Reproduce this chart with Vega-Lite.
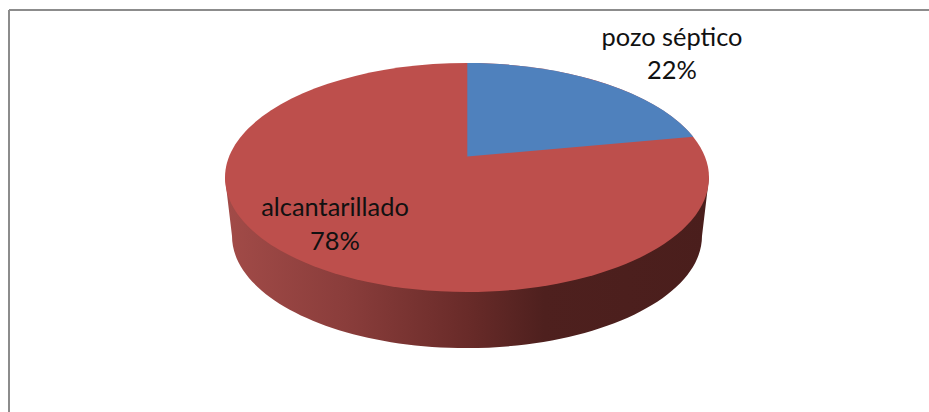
{
  "$schema": "https://vega.github.io/schema/vega-lite/v6.json",
  "width": 920,
  "height": 402,
  "padding": {"left": 9, "top": 10, "right": 0, "bottom": 0},
  "autosize": "none",
  "background": "white",
  "view": {"stroke": null},
  "config": {"view": {"stroke": null}},
  "data": {"values": [
    {"categoria": "alcantarillado", "valor": 78, "etiqueta": "alcantarillado\n78%"},
    {"categoria": "pozo séptico", "valor": 22, "etiqueta": "pozo séptico\n22%"}
  ]},
  "layer": [
    {
      "transform": [{"filter": "datum.categoria === 'alcantarillado'"}],
      "mark": {
        "type": "point", "filled": true, "size": 4, "opacity": 1, "strokeWidth": 0,
        "shape": "M-244,-33.5 L-237,25 A235,112 0 0 0 233,25 L240,-33.5 Z",
        "fill": {"gradient": "linear", "x1": 0, "x2": 1, "y1": 0, "y2": 0, "stops": [
          {"offset": 0, "color": "#a24b48"},
          {"offset": 0.25, "color": "#8a3d3b"},
          {"offset": 0.5, "color": "#692b29"},
          {"offset": 0.66, "color": "#4e201e"},
          {"offset": 1, "color": "#4a1e1c"}
        ]}
      },
      "encoding": {}
    },
    {
      "mark": {"type": "point", "filled": true, "size": 4, "opacity": 1, "strokeWidth": 0},
      "encoding": {
        "shape": {"field": "categoria", "type": "nominal", "legend": null, "scale": {
          "domain": ["alcantarillado", "pozo séptico"],
          "range": [
            "M-244,-33.5 A242,114.5 0 1 1 240,-33.5 A242,114.5 0 1 1 -244,-33.5 Z",
            "M-1.7,-54.5 L-1.7,-148 A242,114.5 0 0 1 224.3,-74.3 Z"
          ]
        }},
        "color": {"field": "categoria", "type": "nominal", "legend": null, "scale": {
          "domain": ["alcantarillado", "pozo séptico"],
          "range": ["#bd4f4c", "#4f81bd"]
        }}
      }
    },
    {
      "transform": [{"filter": "datum.categoria === 'alcantarillado'"}],
      "mark": {"type": "text", "font": "Lato", "fontSize": 25.4, "lineHeight": 33.5, "lineBreak": "\n", "color": "#111111", "dx": -134, "dy": -3, "align": "center", "baseline": "middle"},
      "encoding": {"text": {"field": "etiqueta"}}
    },
    {
      "transform": [{"filter": "datum.categoria === 'pozo séptico'"}],
      "mark": {"type": "text", "font": "Lato", "fontSize": 25.4, "lineHeight": 33.5, "lineBreak": "\n", "color": "#111111", "dx": 203, "dy": -173.5, "align": "center", "baseline": "middle"},
      "encoding": {"text": {"field": "etiqueta"}}
    },
    {
      "mark": {"type": "rule", "color": "#8c8c8c", "strokeWidth": 2},
      "encoding": {"x": {"datum": 0, "type": "quantitative", "axis": null, "scale": {"domain": [0, 1]}}}
    },
    {
      "mark": {"type": "rule", "color": "#8c8c8c", "strokeWidth": 2},
      "encoding": {"y": {"datum": 1, "type": "quantitative", "axis": null, "scale": {"domain": [0, 1]}}}
    }
  ]
}
